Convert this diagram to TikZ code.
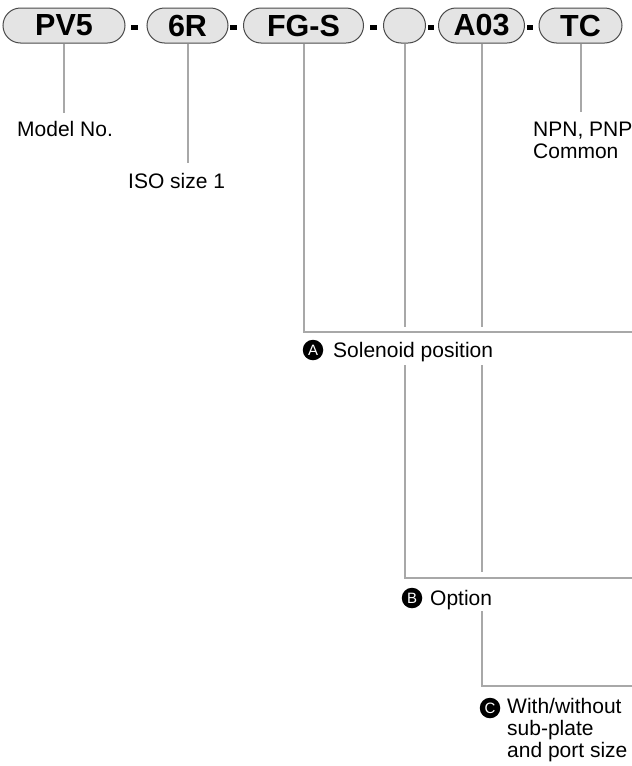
\documentclass[tikz,border=0pt]{standalone}
\usepackage{fontspec}
\setmainfont{Liberation Sans}
\definecolor{leadgray}{HTML}{A8A8A8}
\definecolor{pillfill}{HTML}{E4E4E4}
\definecolor{pilledge}{HTML}{4A4A4A}
\begin{document}
\begin{tikzpicture}[x=1pt,y=-1pt,
  pill/.style={draw=pilledge, line width=1pt, fill=pillfill, rounded corners=17.5pt,
    minimum height=35pt, inner sep=0pt, font=\fontsize{30.5}{30}\selectfont\bfseries},
  dashbar/.style={fill=black, minimum width=7.5pt, minimum height=5pt, inner sep=0pt},
  lead/.style={draw=leadgray, line width=2pt},
  lbl/.style={anchor=base west, inner sep=0pt, align=left,
    font=\fontsize{21}{22}\selectfont},
  badge/.style={circle, fill=black, minimum size=20.5pt, inner sep=0pt, text=white,
    font=\fontsize{15}{15}\selectfont}]
\useasboundingbox (0,0) rectangle (632,766);
% pills
\node[pill, minimum width=122pt] (pv5) at (64,25.5) {PV5};
\node[pill, minimum width=81pt] (r6) at (187.5,25.5) {6R};
\node[pill, minimum width=120pt] (fgs) at (303.5,25.5) {FG-S};
\node[pill, minimum width=42pt] (emp) at (404.5,25.5) {};
\node[pill, minimum width=86pt] (a03) at (481.5,25.5) {A03};
\node[pill, minimum width=83pt] (tc) at (580.5,25.5) {TC};
% dashes
\node[dashbar] (d1) at (134.5,27) {};
\node[dashbar] (d2) at (233.5,27) {};
\node[dashbar] (d3) at (373.5,27) {};
\node[dashbar, minimum width=6pt] (d4) at (430.5,27) {};
\node[dashbar, minimum width=6pt] (d5) at (530,27) {};
% labels
\node[lbl] (model) at (17,136) {Model No.};
\node[lbl] (iso) at (128,188) {ISO size 1};
\node[lbl] (npn) at (533,158) {NPN, PNP\\Common};
\node[badge] (ba) at (313,350) {A};
\node[lbl] (sol) at (333,357) {Solenoid position};
\node[badge] (bb) at (412,598) {B};
\node[lbl] (opt) at (430,605) {Option};
\node[badge] (bc) at (490,708) {C};
\node[lbl] (sub) at (507,757) {With/without\\sub-plate\\and port size};
% connector end points
\coordinate (aR) at (632,332);
\coordinate (bR) at (632,578);
\coordinate (cR) at (632,686);
% leads
\draw[lead] (pv5.south) -- (pv5.south |- 0,113);
\draw[lead] (r6.south) -- (r6.south |- 0,163);
\draw[lead] (tc.south) -- (tc.south |- 0,112);
\draw[lead] (fgs.south) -- (fgs.south |- aR) -- (aR);
\draw[lead] (emp.south) -- (emp.south |- 0,327);
\draw[lead] (a03.south) -- (a03.south |- 0,327);
\draw[lead] (emp.south |- 0,365) -- (emp.south |- bR) -- (bR);
\draw[lead] (a03.south |- 0,365) -- (a03.south |- 0,572);
\draw[lead] (a03.south |- 0,611) -- (a03.south |- cR) -- (cR);
\end{tikzpicture}
\end{document}
